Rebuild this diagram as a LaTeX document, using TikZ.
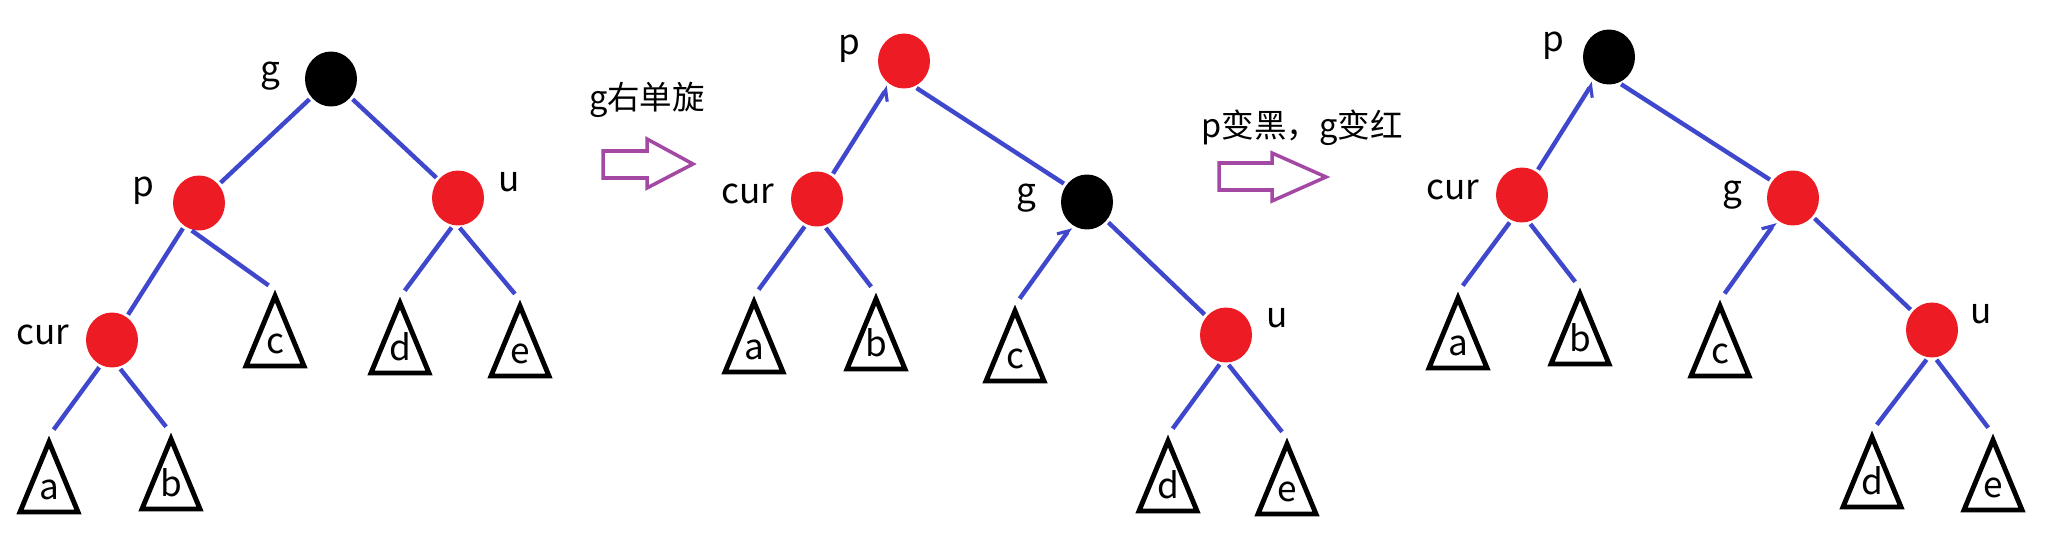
\documentclass[tikz,border=0pt]{standalone}
\usepackage{fontspec}
\setmainfont{Noto Sans CJK SC}
\usetikzlibrary{shapes.geometric,arrows.meta}
\definecolor{rbred}{RGB}{237,28,36}
\definecolor{linkblue}{RGB}{63,72,204}
\definecolor{arrowpurple}{RGB}{163,73,164}

\begin{document}
\begin{tikzpicture}[x=0.02cm, y=-0.02cm,
    rbnode/.style={ellipse, inner sep=0pt, minimum width=1.04cm, minimum height=1.1cm},
    rednode/.style={rbnode, fill=rbred},
    blacknode/.style={rbnode, fill=black},
    link/.style={draw=linkblue, line width=2.5pt, shorten <=1.5pt, shorten >=1.5pt},
    leaflink/.style={link, shorten >=4.5pt},
    hookright/.style={{Straight Barb[harpoon,swap,length=0.18cm,width=0.3cm,line width=1.8pt]}-},
    hookleft/.style={{Straight Barb[harpoon,length=0.18cm,width=0.3cm,line width=1.8pt]}-},
    subtree/.style={draw=black, line width=2.8pt, line join=miter},
    lbl/.style={font=\fontsize{20}{24}\selectfont, inner sep=0pt},
    stepnote/.style={font=\fontsize{18.5}{22}\selectfont, inner sep=0pt},
    bigarrow/.style={draw=arrowpurple, line width=2pt, line join=miter}]
  \useasboundingbox (0,0) rectangle (2052,554);

  % before rotation
  \node[blacknode] (g1) at (331,79) {};
  \node[rednode] (p1) at (199,203) {};
  \node[rednode] (u1) at (458,198) {};
  \node[rednode] (cur1) at (112,340) {};
  \node[lbl] (g1l) at (270,76) {g};
  \node[lbl] (p1l) at (143,191) {p};
  \node[lbl] (u1l) at (509,182) {u};
  \node[lbl] (cur1l) at (43,335) {cur};
  \coordinate (a1) at (49,436);
  \coordinate (b1) at (171,433);
  \coordinate (c1) at (275,290);
  \coordinate (d1) at (400,297);
  \coordinate (e1) at (520,300);
  \draw[subtree] (a1) ++(0,6) -- ++(-29,70) -- ++(58,0) -- cycle;
  \draw[subtree] (b1) ++(0,6) -- ++(-29,70) -- ++(58,0) -- cycle;
  \draw[subtree] (c1) ++(0,6) -- ++(-29,70) -- ++(58,0) -- cycle;
  \draw[subtree] (d1) ++(0,6) -- ++(-29,70) -- ++(58,0) -- cycle;
  \draw[subtree] (e1) ++(0,6) -- ++(-29,70) -- ++(58,0) -- cycle;
  \path (a1) ++(0,63) node[lbl,anchor=base] (a1t) {a};
  \path (b1) ++(0,63) node[lbl,anchor=base] (b1t) {b};
  \path (c1) ++(0,63) node[lbl,anchor=base] (c1t) {c};
  \path (d1) ++(0,63) node[lbl,anchor=base] (d1t) {d};
  \path (e1) ++(0,63) node[lbl,anchor=base] (e1t) {e};
  \draw[link] (g1) -- (p1);
  \draw[link] (g1) -- (u1);
  \draw[link] (p1) -- (cur1);
  \draw[leaflink] (p1.-110) -- (c1);
  \draw[leaflink] (u1.-100) -- (d1);
  \draw[leaflink] (u1.-90) -- (e1);
  \draw[leaflink] (cur1.-114) -- (a1);
  \draw[leaflink] (cur1.-76) -- (b1);

  % first step
  \node[stepnote] (rot) at (647,100) {g右单旋};
  \draw[bigarrow] (603,151) -- (647,151) -- (647,139) -- (693,164) -- (647,188) -- (647,178) -- (603,178) -- cycle;

  % after rotation
  \node[rednode] (p2) at (904,61) {};
  \node[rednode] (cur2) at (817,199) {};
  \node[blacknode] (g2) at (1087,202) {};
  \node[rednode] (u2) at (1226,335) {};
  \node[lbl] (p2l) at (849,49) {p};
  \node[lbl] (cur2l) at (748,194) {cur};
  \node[lbl] (g2l) at (1026,198) {g};
  \node[lbl] (u2l) at (1277,318) {u};
  \coordinate (a2) at (754,296);
  \coordinate (b2) at (876,293);
  \coordinate (c2) at (1015,305);
  \coordinate (d2) at (1168,435);
  \coordinate (e2) at (1287,438);
  \draw[subtree] (a2) ++(0,6) -- ++(-29,70) -- ++(58,0) -- cycle;
  \draw[subtree] (b2) ++(0,6) -- ++(-29,70) -- ++(58,0) -- cycle;
  \draw[subtree] (c2) ++(0,6) -- ++(-29,70) -- ++(58,0) -- cycle;
  \draw[subtree] (d2) ++(0,6) -- ++(-29,70) -- ++(58,0) -- cycle;
  \draw[subtree] (e2) ++(0,6) -- ++(-29,70) -- ++(58,0) -- cycle;
  \path (a2) ++(0,63) node[lbl,anchor=base] (a2t) {a};
  \path (b2) ++(0,63) node[lbl,anchor=base] (b2t) {b};
  \path (c2) ++(0,63) node[lbl,anchor=base] (c2t) {c};
  \path (d2) ++(0,63) node[lbl,anchor=base] (d2t) {d};
  \path (e2) ++(0,63) node[lbl,anchor=base] (e2t) {e};
  \draw[link,hookright] (p2) -- (cur2);
  \draw[link] (p2.-68) -- (g2.141);
  \draw[leaflink] (cur2.-113) -- (a2);
  \draw[leaflink] (cur2.-75) -- (b2);
  \draw[leaflink,hookleft] (g2.-122) -- (c2);
  \draw[link] (g2) -- (u2);
  \draw[leaflink] (u2.-100) -- (d2);
  \draw[leaflink] (u2.-88) -- (e2);

  % second step
  \node[stepnote] (recolor) at (1302,128) {p变黑，g变红};
  \draw[bigarrow] (1219,163) -- (1272,163) -- (1272,153) -- (1326,177) -- (1272,201) -- (1272,190) -- (1219,190) -- cycle;

  % after recolouring
  \node[blacknode] (p3) at (1609,57) {};
  \node[rednode] (cur3) at (1522,195) {};
  \node[rednode] (g3) at (1793,198) {};
  \node[rednode] (u3) at (1932,330) {};
  \node[lbl] (p3l) at (1553,46) {p};
  \node[lbl] (cur3l) at (1453,190) {cur};
  \node[lbl] (g3l) at (1732,195) {g};
  \node[lbl] (u3l) at (1981,314) {u};
  \coordinate (a3) at (1458,292);
  \coordinate (b3) at (1580,288);
  \coordinate (c3) at (1720,300);
  \coordinate (d3) at (1872,431);
  \coordinate (e3) at (1993,434);
  \draw[subtree] (a3) ++(0,6) -- ++(-29,70) -- ++(58,0) -- cycle;
  \draw[subtree] (b3) ++(0,6) -- ++(-29,70) -- ++(58,0) -- cycle;
  \draw[subtree] (c3) ++(0,6) -- ++(-29,70) -- ++(58,0) -- cycle;
  \draw[subtree] (d3) ++(0,6) -- ++(-29,70) -- ++(58,0) -- cycle;
  \draw[subtree] (e3) ++(0,6) -- ++(-29,70) -- ++(58,0) -- cycle;
  \path (a3) ++(0,63) node[lbl,anchor=base] (a3t) {a};
  \path (b3) ++(0,63) node[lbl,anchor=base] (b3t) {b};
  \path (c3) ++(0,63) node[lbl,anchor=base] (c3t) {c};
  \path (d3) ++(0,63) node[lbl,anchor=base] (d3t) {d};
  \path (e3) ++(0,63) node[lbl,anchor=base] (e3t) {e};
  \draw[link,hookright] (p3) -- (cur3);
  \draw[link] (p3.-69) -- (g3.141);
  \draw[leaflink] (cur3.-113) -- (a3);
  \draw[leaflink] (cur3.-76) -- (b3);
  \draw[leaflink,hookleft] (g3.-126) -- (c3);
  \draw[link] (g3) -- (u3);
  \draw[leaflink] (u3.-98) -- (d3);
  \draw[leaflink] (u3.-84) -- (e3);
\end{tikzpicture}
\end{document}
